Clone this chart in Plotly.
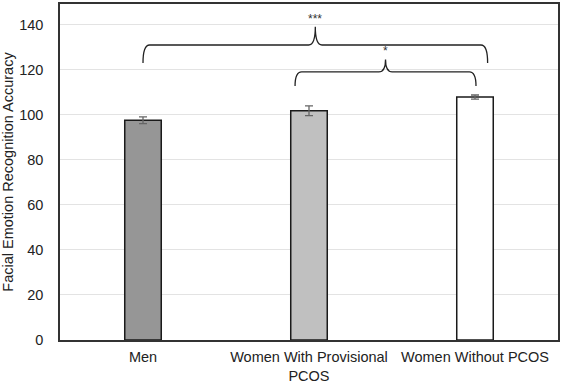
import plotly.graph_objects as go

categories = ["Men", "Women With Provisional<br>PCOS", "Women Without PCOS"]
values = [97.6, 101.8, 107.9]
errors = [1.5, 2.2, 0.9]
bar_colors = ["#969696", "#c0c0c0", "#ffffff"]
y_ticks = [0, 20, 40, 60, 80, 100, 120, 140]

# significance brackets: (left x, right x, end y, bar y, peak y, label)
brackets = [
    (0.0, 2.076, 123.0, 131.0, 139.1, "***"),
    (0.916, 2.006, 112.8, 119.1, 124.6, "*"),
]

xs = list(range(len(categories)))
fig = go.Figure()
fig.add_trace(go.Bar(
    x=xs, y=values, width=0.22,
    marker=dict(color=bar_colors, line=dict(color="#1a1a1a", width=1.5)),
    error_y=dict(type="data", array=errors, visible=True, color="#666666", thickness=1.3, width=4),
))

shapes = []
annotations = []
dx = 0.04
for x0, x1, ye, yh, yp, lab in brackets:
    xm = (x0 + x1) / 2
    path = (f"M {x0},{ye} Q {x0},{yh} {x0+dx},{yh} L {xm-dx},{yh} "
            f"Q {xm},{yh} {xm},{yp} Q {xm},{yh} {xm+dx},{yh} "
            f"L {x1-dx},{yh} Q {x1},{yh} {x1},{ye}")
    shapes.append(dict(type="path", path=path, xref="x", yref="y",
                       line=dict(color="#222222", width=1.3)))
    annotations.append(dict(x=xm, y=yp, xref="x", yref="y", text=lab, showarrow=False,
                            yanchor="bottom", yshift=-1, font=dict(size=12, color="#333333")))

fig.update_layout(
    width=564, height=385,
    margin=dict(l=60, r=6, t=4, b=45),
    paper_bgcolor="white", plot_bgcolor="white",
    font=dict(family="Liberation Sans, Arial", size=14.5, color="#222222"),
    showlegend=False,
    shapes=shapes, annotations=annotations,
    xaxis=dict(range=[-0.5, 2.5], tickmode="array", tickvals=xs, ticktext=categories,
               showgrid=False, showline=True, linecolor="#333333", linewidth=1.5, mirror=True,
               zeroline=False, ticks="", ticklabelstandoff=3, tickfont=dict(size=14.5),
               automargin=False),
    yaxis=dict(range=[0, 149.2], tickmode="array", tickvals=y_ticks,
               showgrid=True, gridcolor="#e3e3e3", gridwidth=1,
               showline=True, linecolor="#333333", linewidth=1.5, mirror=True,
               zeroline=False, ticks="", ticklabelstandoff=12, tickfont=dict(size=14.5),
               automargin=False,
               title=dict(text="Facial Emotion Recognition Accuracy", standoff=5, font=dict(size=14.5))),
)
fig.write_html("out.html")
